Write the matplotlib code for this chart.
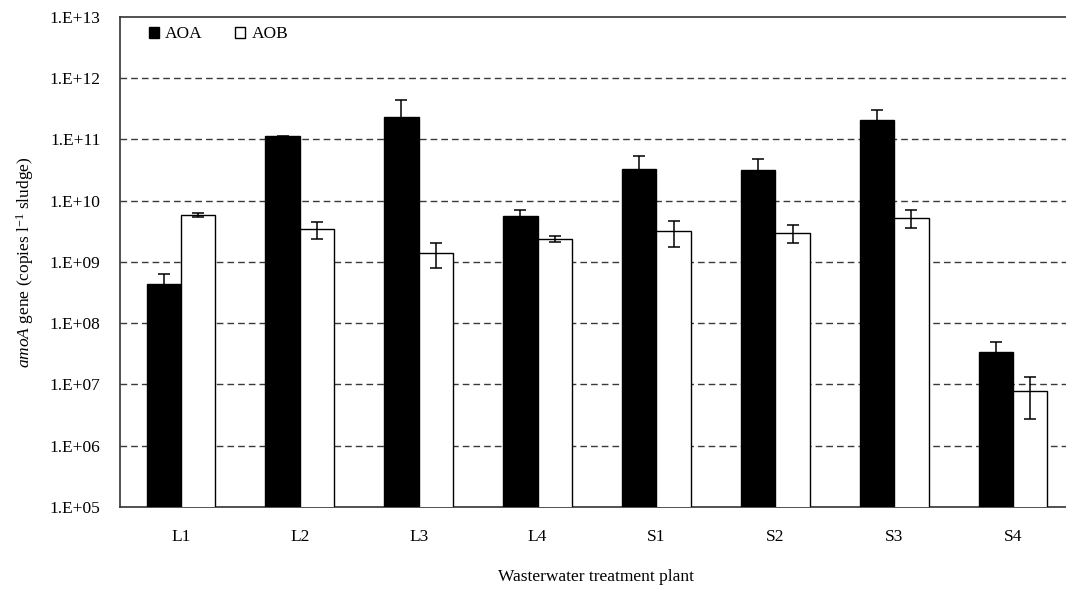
import numpy as np
import matplotlib
matplotlib.use("Agg")
import matplotlib.pyplot as plt
from matplotlib.ticker import FixedLocator, FuncFormatter

plants = ["L1", "L2", "L3", "L4", "S1", "S2", "S3", "S4"]
aoa = [4.4e8, 1.11e11, 2.3e11, 5.6e9, 3.3e10, 3.1e10, 2.1e11, 3.4e7]
aoa_err = [2.0e8, 0.04e11, 2.0e11, 1.3e9, 2.1e10, 1.7e10, 0.95e11, 1.5e7]
aob = [5.8e9, 3.4e9, 1.4e9, 2.4e9, 3.2e9, 3.0e9, 5.2e9, 7.9e6]
aob_err = [0.5e9, 1.05e9, 0.62e9, 0.26e9, 1.45e9, 1.0e9, 1.7e9, 5.2e6]

plt.rcParams["font.family"] = ["Liberation Serif", "DejaVu Serif"]
plt.rcParams["mathtext.fontset"] = "custom"
plt.rcParams["mathtext.rm"] = "Liberation Serif"
plt.rcParams["mathtext.it"] = "Liberation Serif:italic"

fig = plt.figure(figsize=(10.66, 5.90), dpi=100)
# plot area runs slightly past the right edge of the canvas
ax = fig.add_axes([0.1126, 0.1407, 0.893, 0.831])

x = np.arange(len(plants))
w = 0.29
ekw = dict(ecolor="black", elinewidth=1.1, capsize=4.5, capthick=1.1, zorder=4)
ax.bar(x - w / 2, aoa, w, color="black", edgecolor="black", linewidth=1,
       label="AOA", zorder=3)
ax.errorbar(x - w / 2, aoa, yerr=aoa_err, fmt="none", **ekw)
ax.bar(x + w / 2, aob, w, color="white", edgecolor="black", linewidth=1,
       label="AOB", zorder=3)
ax.errorbar(x + w / 2, aob, yerr=aob_err, fmt="none", **ekw)

ax.set_yscale("log")
ax.set_ylim(1e5, 1e13)
ax.set_xlim(-0.513, 7.496)
ax.yaxis.set_major_locator(FixedLocator([10.0 ** k for k in range(5, 14)]))
ax.yaxis.set_minor_locator(FixedLocator([]))
ax.yaxis.set_major_formatter(
    FuncFormatter(lambda v, pos: "1.E+%02d" % int(round(np.log10(v)))))
ax.set_xticks(x)
ax.set_xticklabels(plants)
ax.tick_params(axis="both", length=0, labelsize=12.5, colors="black")
ax.tick_params(axis="x", pad=16)
ax.tick_params(axis="y", pad=14)

# dashed decade lines between the bottom and top limits
for k in range(6, 13):
    ax.axhline(10.0 ** k, color="#3a3a3a", linewidth=1.0,
               dashes=(4.8, 2.9), zorder=1)

for side in ["left", "right", "top", "bottom"]:
    ax.spines[side].set_color("#333333")
    ax.spines[side].set_linewidth(1.2)

ax.set_ylabel(r"$\mathit{amoA}$ gene (copies l$^{-1}$ sludge)", fontsize=12.5,
              labelpad=10)
ax.set_xlabel("Wasterwater treatment plant", fontsize=12.5, labelpad=17)

ax.legend(loc="upper left", ncol=2, frameon=False, fontsize=12.5,
          handlelength=0.58, handleheight=0.58, handletextpad=0.35,
          columnspacing=1.9, borderaxespad=0.15, bbox_to_anchor=(0.02, 1.0))

fig.savefig("out.png", dpi=100)
